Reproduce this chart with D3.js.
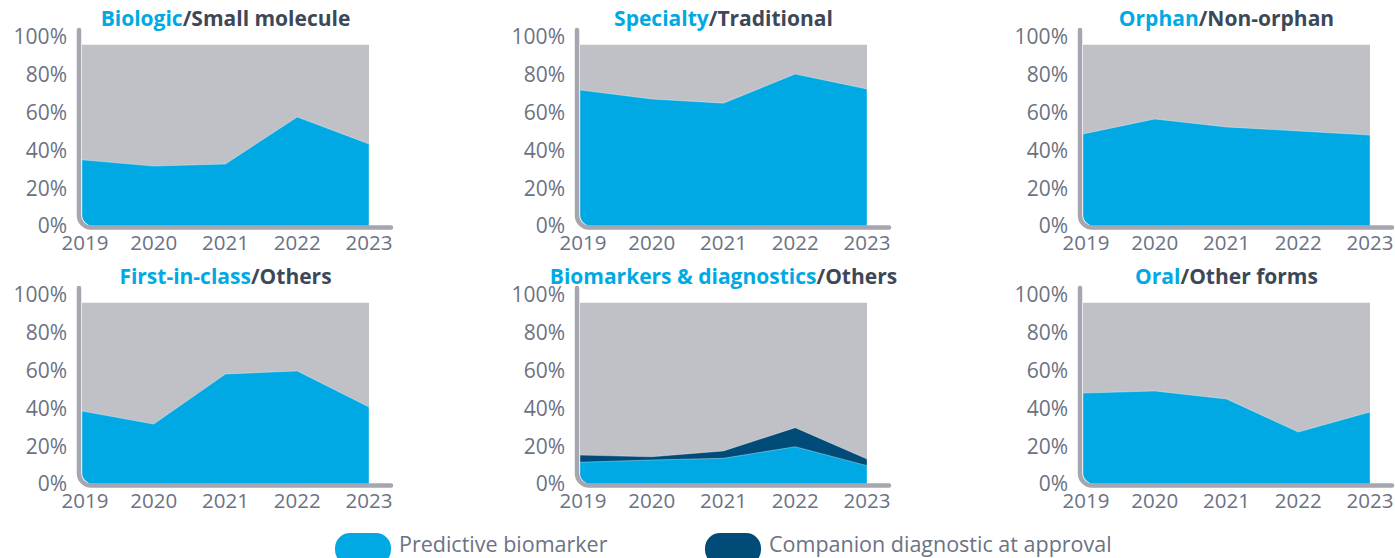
<!DOCTYPE html>
<html>
<head>
<meta charset="utf-8">
<script src="https://cdn.jsdelivr.net/npm/d3@7"></script>
<style>
  body { margin: 0; background: #fff; }
  svg { display: block; font-family: "Open Sans", "Noto Sans", sans-serif; }
</style>
</head>
<body>
<div id="chart"></div>
<script>
// years on every panel
const years = [2019, 2020, 2021, 2022, 2023];
const yTicks = [0, 0.2, 0.4, 0.6, 0.8, 1];

// panel titles: highlighted part / rest
const titleBlue = ["Biologic", "Specialty", "Orphan", "First-in-class", "Biomarkers & diagnostics", "Oral"];
const titleGrey = ["/Small molecule", "/Traditional", "/Non-orphan", "/Others", "/Others", "/Other forms"];

// share of approvals in the highlighted group (fraction)
const biologic = [0.35, 0.317, 0.328, 0.577, 0.434];
const specialty = [0.72, 0.672, 0.65, 0.804, 0.725];
const orphan = [0.487, 0.566, 0.524, 0.503, 0.481];
const firstInClass = [0.386, 0.317, 0.582, 0.598, 0.407];
const predictive = [0.115, 0.127, 0.136, 0.197, 0.097];
const companion = [0.038, 0.017, 0.039, 0.101, 0.035];
const oral = [0.481, 0.492, 0.45, 0.275, 0.381];

// grey "others" band stops a bit under 100%
const greyTop = 0.96;

const legendLabels = ["Predictive biomarker", "Companion diagnostic at approval"];

const W = 1395, H = 558;
const blue = "#00a9e3", dark = "#004b78", grey = "#c0c1c6", axisCol = "#a5a6b0";
const textCol = "#6b7283", titleCol = "#3c4858";

const svg = d3.select("#chart").append("svg")
  .attr("width", W).attr("height", H);

const colX = [0, 498, 1001];
const rowY = [0, 258];

const panels = [
  { main: biologic },
  { main: specialty },
  { main: orphan },
  { main: firstInClass },
  { main: predictive, extra: companion },
  { main: oral }
];

const x = d3.scaleLinear().domain([2019, 2023]).range([82, 369]);
const y = d3.scaleLinear().domain([0, 1]).range([226, 37]);
const r = 12;

panels.forEach((p, i) => {
  const g = svg.append("g")
    .attr("transform", `translate(${colX[i % 3]},${rowY[Math.floor(i / 3)]})`);

  const x0 = x.range()[0], x1 = x.range()[1];
  const yb = y(0), yt = y(greyTop);

  // clip with rounded bottom-left corner
  const clipId = "clip" + i;
  g.append("clipPath").attr("id", clipId)
    .append("path")
    .attr("d", `M${x0},${yt} H${x1} V${yb} H${x0 + r} A${r},${r} 0 0 1 ${x0},${yb - r} Z`);

  const plot = g.append("g").attr("clip-path", `url(#${clipId})`);

  // others (grey)
  plot.append("path")
    .datum(years)
    .attr("fill", grey)
    .attr("d", d3.area().x(d => x(d)).y0(yb).y1(yt));

  const stackTop = years.map((d, k) => p.main[k] + (p.extra ? p.extra[k] : 0));

  if (p.extra) {
    plot.append("path")
      .datum(years)
      .attr("fill", dark)
      .attr("stroke", "#fff").attr("stroke-width", 0.6).attr("stroke-opacity", 0.6)
      .attr("d", d3.area().x(d => x(d)).y0(yb).y1((d, k) => y(stackTop[k])));
  }

  plot.append("path")
    .datum(years)
    .attr("fill", blue)
    .attr("stroke", "#fff").attr("stroke-width", 0.6).attr("stroke-opacity", 0.6)
    .attr("d", d3.area().x(d => x(d)).y0(yb).y1((d, k) => y(p.main[k])));

  // axis line with rounded corner
  const ax = x0 - 3, ay = yb + 1.5;
  g.append("path")
    .attr("fill", "none")
    .attr("stroke", axisCol)
    .attr("stroke-width", 4.5)
    .attr("stroke-linecap", "round")
    .attr("d", `M${ax},30 V${ay - r} A${r},${r} 0 0 0 ${ax + r},${ay} H${x1 + 22}`);

  // y tick labels
  g.selectAll(".ylab").data(yTicks).enter().append("text")
    .attr("x", ax - 12)
    .attr("y", d => y(d))
    .attr("dy", "0.35em")
    .attr("text-anchor", "end")
    .attr("font-size", 21)
    .attr("fill", textCol)
    .text(d => d3.format(".0%")(d));

  // x tick labels
  g.selectAll(".xlab").data(years).enter().append("text")
    .attr("x", d => x(d) + (d === 2019 ? 3 : 0))
    .attr("y", 250)
    .attr("text-anchor", "middle")
    .attr("font-size", 20.5)
    .attr("fill", textCol)
    .text(d => d);

  // title
  const t = g.append("text")
    .attr("x", (x0 + x1) / 2)
    .attr("y", 26)
    .attr("text-anchor", "middle")
    .attr("font-size", 21)
    .attr("font-weight", "bold");
  t.append("tspan").attr("fill", blue).text(titleBlue[i]);
  t.append("tspan").attr("fill", titleCol).text(titleGrey[i]);
});

// legend
const legX = [335, 705];
const legCol = [blue, dark];
legendLabels.forEach((lab, i) => {
  svg.append("rect")
    .attr("x", legX[i]).attr("y", 533)
    .attr("width", 56).attr("height", 32)
    .attr("rx", 15)
    .attr("fill", legCol[i]);
  svg.append("text")
    .attr("x", legX[i] + 64).attr("y", 552)
    .attr("font-size", 21.5)
    .attr("fill", textCol)
    .text(lab);
});
</script>
</body>
</html>
